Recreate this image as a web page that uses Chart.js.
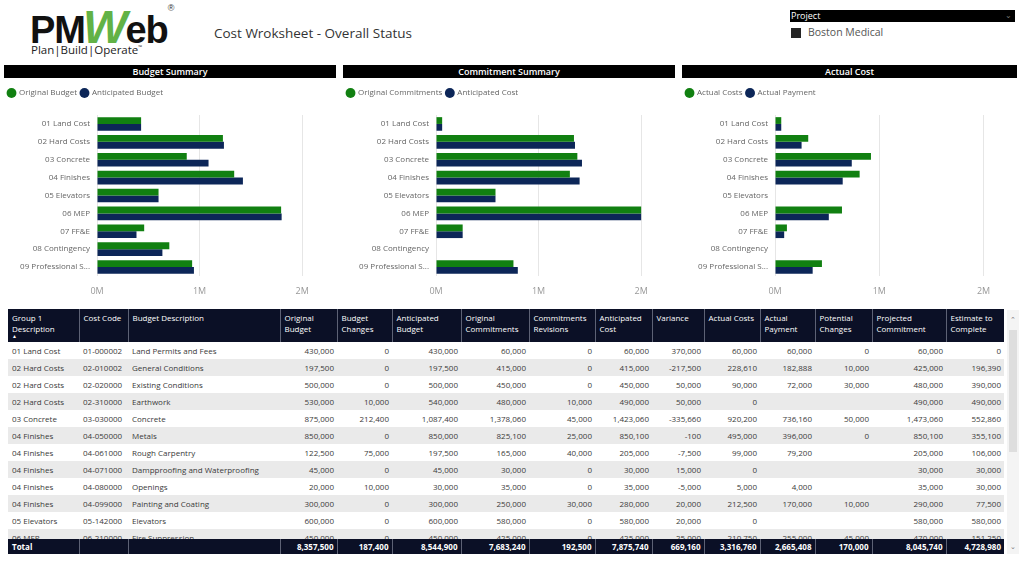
<!DOCTYPE html>
<html>
<head>
<meta charset="utf-8">
<script src="https://cdn.jsdelivr.net/npm/chart.js@4.4.1/dist/chart.umd.min.js"></script>
<style>
  html, body { margin: 0; padding: 0; background: #fff; }
  body { width: 1024px; height: 565px; position: relative; overflow: hidden;
         font-family: 'Segoe UI', 'Open Sans', sans-serif; color: #333; }
  .abs { position: absolute; }
  #logo { left: 30px; top: -1px; font-family: 'Liberation Sans', Arial, sans-serif; font-weight: bold;
          font-size: 38px; letter-spacing: -1px; color: #111; white-space: nowrap; }
  #logo .w { color: #62b246; font-style: italic; font-size: 47px; margin: 0 -1px 0 -2px; }
  #logo sup { font-size: 9px; font-weight: normal; vertical-align: top; position: relative; top: 4px; color: #333; }
  #tagline { left: 31px; top: 42px; font-family: 'Open Sans', sans-serif; font-size: 11.5px; color: #222; }
  #title { left: 214px; top: 24px; font-size: 13.5px; color: #333; font-family: 'Open Sans', sans-serif; }
  #slicer { left: 790px; top: 10px; width: 225px; height: 12px; background: #000; color: #fff;
            font-size: 9px; line-height: 12px; padding-left: 1px; box-sizing: border-box; }
  #slicer span { position: absolute; right: 3px; top: -1px; color: #777; font-size: 8px; }
  #chk { left: 791px; top: 28px; width: 10px; height: 10px; background: #252525; }
  #proj { left: 808px; top: 25px; font-size: 10.5px; color: #555; }
  .bar { height: 13px; background: #000; color: #fff; font-size: 9px; font-weight: 600;
         text-align: center; line-height: 13px; top: 65px; }
  canvas.c { position: absolute; top: 85px; }
  #tbl { left: 8px; top: 309px; width: 996px; height: 245px; overflow: hidden; }
  table { border-collapse: collapse; table-layout: fixed; width: 996px; font-size: 8px; }
  td, th { padding: 0 3px 0 4px; white-space: nowrap; overflow: hidden; }
  thead tr { height: 33px; }
  thead th { background: #0b1026; color: #fff; font-weight: normal; text-align: left; vertical-align: top;
             line-height: 10.5px; padding-top: 4px; border-left: 1px solid #5d6275; }
  thead th:first-child { border-left: none; }
  .sort { display: block; height: 4px; line-height: 4px; font-size: 5px; }
  tbody tr { height: 17px; }
  tbody td { line-height: 17px; color: #3a3a3a; }
  tbody tr:nth-child(even) td { background: #eaeaea; }
  td.n { text-align: right; }
  #body { height: 197px; overflow: hidden; }
  #tot { height: 15px; }
  #tot td { background: #0b1026; color: #fff; font-weight: bold; line-height: 15px;
            border-left: 1px solid #5d6275; }
  #tot td:first-child { border-left: none; }
  #scroll { left: 1007px; top: 310px; width: 12px; height: 244px; background: #f4f4f4; }
  #thumb { left: 1009px; top: 330px; width: 8px; height: 122px; background: #dedede; }
  .arr { left: 1008px; width: 10px; text-align: center; font-size: 7px; color: #777; }
</style>
</head>
<body>
<div id="logo" class="abs">PM<span class="w">W</span>eb<sup>®</sup></div>
<div id="tagline" class="abs">Plan|Build|Operate<sup style="font-size:5px">™</sup></div>
<div id="title" class="abs">Cost Wroksheet - Overall Status</div>
<div id="slicer" class="abs">Project<span>&#8964;</span></div>
<div id="chk" class="abs"></div>
<div id="proj" class="abs">Boston Medical</div>

<div class="abs bar" style="left:4px;width:332px">Budget Summary</div>
<div class="abs bar" style="left:343px;width:332px">Commitment Summary</div>
<div class="abs bar" style="left:682px;width:335px">Actual Cost</div>

<canvas id="budgetChart" class="c" style="left:4px" width="332" height="215"></canvas>
<canvas id="commitChart" class="c" style="left:343px" width="332" height="215"></canvas>
<canvas id="actualChart" class="c" style="left:682px" width="336" height="215"></canvas>

<div id="tbl" class="abs"></div>
<div id="scroll" class="abs"></div>
<div id="thumb" class="abs"></div>
<div class="abs arr" style="top:315px">&#8963;</div>
<div class="abs arr" style="top:542px">&#8964;</div>

<script>
// chart data
const categories = ['01 Land Cost', '02 Hard Costs', '03 Concrete', '04 Finishes', '05 Elevators',
    '06 MEP', '07 FF&E', '08 Contingency', '09 Professional Services'];
const originalBudget = [430000, 1227500, 875000, 1337500, 600000, 1795000, 460000, 705000, 927500];
const anticipatedBudget = [430000, 1237500, 1087400, 1422500, 600000, 1800000, 385000, 637500, 945000];
const originalCommitments = [60000, 1345000, 1378060, 1305100, 580000, 2000000, 260000, 0, 755080];
const anticipatedCost = [60000, 1355000, 1423060, 1400100, 580000, 2000000, 260000, 0, 797580];
const actualCosts = [60000, 318610, 920200, 811500, 0, 642200, 114250, 0, 450000];
const actualPayment = [60000, 254888, 736160, 649200, 0, 516000, 88000, 0, 361160];
const xTickValues = [0, 1000000, 2000000];

// table data
const tableColumns = ['Group 1<br>Description<span class="sort">&#9650;</span>', 'Cost Code', 'Budget Description',
    'Original<br>Budget', 'Budget<br>Changes', 'Anticipated<br>Budget', 'Original<br>Commitments',
    'Commitments<br>Revisions', 'Anticipated<br>Cost', 'Variance', 'Actual Costs', 'Actual<br>Payment',
    'Potential<br>Changes', 'Projected<br>Commitment', 'Estimate to<br>Complete'];
const columnWidths = [71, 49, 152, 57, 55, 69, 68, 66, 57, 52, 56, 55, 57, 74, 58];
const tableRows = [
    ['01 Land Cost', '01-000002', 'Land Permits and Fees', 430000, 0, 430000, 60000, 0, 60000, 370000, 60000, 60000, 0, 60000, 0],
    ['02 Hard Costs', '02-010002', 'General Conditions', 197500, 0, 197500, 415000, 0, 415000, -217500, 228610, 182888, 10000, 425000, 196390],
    ['02 Hard Costs', '02-020000', 'Existing Conditions', 500000, 0, 500000, 450000, 0, 450000, 50000, 90000, 72000, 30000, 480000, 390000],
    ['02 Hard Costs', '02-310000', 'Earthwork', 530000, 10000, 540000, 480000, 10000, 490000, 50000, 0, null, null, 490000, 490000],
    ['03 Concrete', '03-030000', 'Concrete', 875000, 212400, 1087400, 1378060, 45000, 1423060, -335660, 920200, 736160, 50000, 1473060, 552860],
    ['04 Finishes', '04-050000', 'Metals', 850000, 0, 850000, 825100, 25000, 850100, -100, 495000, 396000, 0, 850100, 355100],
    ['04 Finishes', '04-061000', 'Rough Carpentry', 122500, 75000, 197500, 165000, 40000, 205000, -7500, 99000, 79200, null, 205000, 106000],
    ['04 Finishes', '04-071000', 'Dampproofing and Waterproofing', 45000, 0, 45000, 30000, 0, 30000, 15000, 0, null, null, 30000, 30000],
    ['04 Finishes', '04-080000', 'Openings', 20000, 10000, 30000, 35000, 0, 35000, -5000, 5000, 4000, null, 35000, 30000],
    ['04 Finishes', '04-099000', 'Painting and Coating', 300000, 0, 300000, 250000, 30000, 280000, 20000, 212500, 170000, 10000, 290000, 77500],
    ['05 Elevators', '05-142000', 'Elevators', 600000, 0, 600000, 580000, 0, 580000, 20000, 0, null, null, 580000, 580000],
    ['06 MEP', '06-210000', 'Fire Suppression', 450000, 0, 450000, 425000, 0, 425000, 25000, 210750, 255000, 45000, 470000, 151250]
];
const tableTotals = ['Total', '', '', 8357500, 187400, 8544900, 7683240, 192500, 7875740, 669160, 3316760, 2665408, 170000, 8045740, 4728980];

const GREEN = '#118011';
const NAVY = '#0c2658';
const FONT = "'Segoe UI', 'Open Sans', sans-serif";

const legendGap = {
    id: 'legendGap',
    beforeInit(chart) {
        const fit = chart.legend.fit;
        chart.legend.fit = function () {
            fit.bind(chart.legend)();
            this.height += 8;
        };
    }
};

function makeChart(id, labelA, dataA, labelB, dataB) {
    const ctx = document.getElementById(id).getContext('2d');
    return new Chart(ctx, {
        type: 'bar',
        data: {
            labels: categories,
            datasets: [
                { label: labelA, data: dataA, backgroundColor: GREEN },
                { label: labelB, data: dataB, backgroundColor: NAVY }
            ]
        },
        options: {
            indexAxis: 'y',
            responsive: false,
            animation: false,
            categoryPercentage: 0.76,
            barPercentage: 1.0,
            layout: { padding: 0 },
            plugins: {
                tooltip: { enabled: false },
                legend: {
                    position: 'top', align: 'start',
                    labels: {
                        usePointStyle: true, pointStyle: 'circle', boxWidth: 7, boxHeight: 7,
                        padding: 4, color: '#666', font: { family: FONT, size: 8 }
                    }
                }
            },
            scales: {
                x: {
                    min: 0, max: 2330000,
                    afterBuildTicks: scale => { scale.ticks = xTickValues.map(v => ({ value: v })); },
                    afterFit: scale => { scale.height = 24; },
                    ticks: {
                        padding: 10, color: '#999', font: { family: FONT, size: 9 },
                        callback: v => (v / 1000000) + 'M'
                    },
                    grid: { color: '#e6e6e6', drawTicks: false },
                    border: { display: false }
                },
                y: {
                    afterFit: scale => { scale.width = 93; },
                    ticks: {
                        padding: 7, color: '#666', font: { family: FONT, size: 8 },
                        callback: function (v) {
                            const s = this.getLabelForValue(v);
                            return s.length > 17 ? s.slice(0, 17) + '...' : s;
                        }
                    },
                    grid: { display: false, drawTicks: false },
                    border: { display: false }
                }
            }
        },
        plugins: [legendGap]
    });
}

makeChart('budgetChart', 'Original Budget', originalBudget, 'Anticipated Budget', anticipatedBudget);
makeChart('commitChart', 'Original Commitments', originalCommitments, 'Anticipated Cost', anticipatedCost);
makeChart('actualChart', 'Actual Costs', actualCosts, 'Actual Payment', actualPayment);

// table
function fmt(v) {
    if (v === null) return '';
    if (typeof v === 'number') return v.toLocaleString('en-US');
    return v;
}
function colgroup() {
    return '<colgroup>' + columnWidths.map(w => '<col style="width:' + w + 'px">').join('') + '</colgroup>';
}
let html = '<table>' + colgroup() + '<thead><tr>' +
    tableColumns.map(c => '<th>' + c + '</th>').join('') + '</tr></thead></table>';
html += '<div id="body"><table>' + colgroup() + '<tbody>' +
    tableRows.map(r => '<tr>' + r.map((v, i) => '<td' + (i > 2 ? ' class="n"' : '') + '>' + fmt(v) + '</td>').join('') + '</tr>').join('') +
    '</tbody></table></div>';
html += '<table>' + colgroup() + '<tbody><tr id="tot">' +
    tableTotals.map((v, i) => '<td' + (i > 2 ? ' class="n"' : '') + '>' + fmt(v) + '</td>').join('') + '</tr></tbody></table>';
document.getElementById('tbl').innerHTML = html;
</script>
</body>
</html>
